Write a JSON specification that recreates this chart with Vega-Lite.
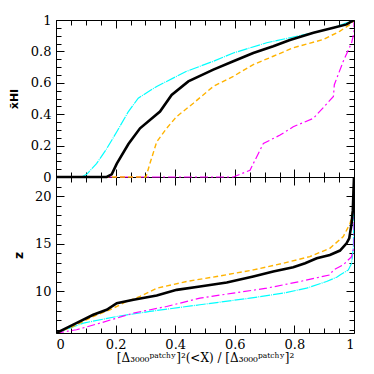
{
  "$schema": "https://vega.github.io/schema/vega-lite/v6.json",
  "autosize": "none",
  "padding": {"left": 56, "top": 20, "right": 20, "bottom": 41},
  "width": 298,
  "height": 313,
  "background": "white",
  "config": {
    "view": {"stroke": "#000", "strokeWidth": 1},
    "axis": {"grid": false, "labelFont": "DejaVu Serif", "labelFontSize": 13, "labelColor": "#000", "tickColor": "#000", "titleColor": "#000"}
  },
  "resolve": {"scale": {"y": "independent"}, "axis": {"x": "independent", "y": "independent"}},
  "layer": [
    {
      "data": {"values": [{"f": 0, "v": 0}, {"f": 0.086, "v": 0}, {"f": 0.103, "v": 0.017}, {"f": 0.136, "v": 0.085}, {"f": 0.17, "v": 0.18}, {"f": 0.204, "v": 0.288}, {"f": 0.243, "v": 0.417}, {"f": 0.276, "v": 0.502}, {"f": 0.338, "v": 0.577}, {"f": 0.438, "v": 0.673}, {"f": 0.528, "v": 0.737}, {"f": 0.595, "v": 0.79}, {"f": 0.707, "v": 0.855}, {"f": 0.785, "v": 0.887}, {"f": 0.864, "v": 0.919}, {"f": 0.931, "v": 0.951}, {"f": 1, "v": 1}]},
      "mark": {"type": "line", "clip": true, "color": "#00ffff", "strokeWidth": 1.2, "strokeDash": [10, 1, 1, 1]},
      "encoding": {
        "x": {"field": "f", "type": "quantitative", "scale": {"domain": [0, 1], "nice": false, "zero": false},
              "axis": {"orient": "bottom", "offset": -313, "labels": false, "title": null, "domain": false, "tickColor": "#000", "values": [0, 0.2, 0.4, 0.6, 0.8, 1], "tickSize": 8}},
        "y": {"field": "v", "type": "quantitative", "scale": {"domain": [0, 1], "range": [157, 0], "nice": false, "zero": false},
              "axis": {"orient": "left", "ticks": false, "domain": false, "values": [0, 0.2, 0.4, 0.6, 0.8, 1], "format": "~g", "labelPadding": 5, "title": "x̄HI", "titleFont": "DejaVu Sans", "titleFontSize": 11, "titleFontWeight": "bold", "titlePadding": 11}}
      }
    },
    {
      "data": {"values": [{"f": 0, "v": 0}, {"f": 0.595, "v": 0}, {"f": 0.651, "v": 0.043}, {"f": 0.696, "v": 0.214}, {"f": 0.752, "v": 0.267}, {"f": 0.796, "v": 0.32}, {"f": 0.864, "v": 0.374}, {"f": 0.931, "v": 0.513}, {"f": 0.934, "v": 0.588}, {"f": 0.964, "v": 0.737}, {"f": 0.992, "v": 0.855}, {"f": 1, "v": 0.92}, {"f": 1.0, "v": 1}]},
      "mark": {"type": "line", "clip": true, "color": "#ff00ff", "strokeWidth": 1.2, "strokeDash": [8, 3, 2, 3]},
      "encoding": {
        "x": {"field": "f", "type": "quantitative", "scale": {"domain": [0, 1], "nice": false, "zero": false},
              "axis": {"orient": "bottom", "offset": -313, "labels": false, "title": null, "domain": false, "tickColor": "#000", "values": [0.05, 0.1, 0.15, 0.25, 0.3, 0.35, 0.45, 0.5, 0.55, 0.65, 0.7, 0.75, 0.85, 0.9, 0.95], "tickSize": 5}},
        "y": {"field": "v", "type": "quantitative", "scale": {"domain": [0, 1], "range": [157, 0], "nice": false, "zero": false},
              "axis": {"orient": "right", "offset": -298, "labels": false, "title": null, "domain": false, "tickColor": "#000", "values": [0, 0.2, 0.4, 0.6, 0.8, 1], "tickSize": 8}}
      }
    },
    {
      "data": {"values": [{"f": 0, "v": 0}, {"f": 0.302, "v": 0}, {"f": 0.315, "v": 0.085}, {"f": 0.338, "v": 0.224}, {"f": 0.371, "v": 0.31}, {"f": 0.405, "v": 0.385}, {"f": 0.461, "v": 0.47}, {"f": 0.528, "v": 0.577}, {"f": 0.595, "v": 0.641}, {"f": 0.662, "v": 0.716}, {"f": 0.729, "v": 0.769}, {"f": 0.796, "v": 0.823}, {"f": 0.897, "v": 0.876}, {"f": 0.953, "v": 0.929}, {"f": 0.987, "v": 0.972}, {"f": 1, "v": 1}]},
      "mark": {"type": "line", "clip": true, "color": "#ffb300", "strokeWidth": 1.4, "strokeDash": [5, 3]},
      "encoding": {
        "x": {"field": "f", "type": "quantitative", "scale": {"domain": [0, 1], "nice": false, "zero": false},
              "axis": {"orient": "top", "offset": -157, "labels": false, "title": null, "domain": false, "tickColor": "#000", "values": [0, 0.2, 0.4, 0.6, 0.8, 1], "tickSize": 8}},
        "y": {"field": "v", "type": "quantitative", "scale": {"domain": [0, 1], "range": [157, 0], "nice": false, "zero": false},
              "axis": {"orient": "right", "offset": -298, "labels": false, "title": null, "domain": false, "tickColor": "#000", "values": [0.05, 0.1, 0.15, 0.25, 0.3, 0.35, 0.45, 0.5, 0.55, 0.65, 0.7, 0.75, 0.85, 0.9, 0.95], "tickSize": 5}}
      }
    },
    {
      "data": {"values": [{"f": 0, "v": 0}, {"f": 0.17, "v": 0}, {"f": 0.187, "v": 0.017}, {"f": 0.204, "v": 0.085}, {"f": 0.243, "v": 0.21}, {"f": 0.282, "v": 0.31}, {"f": 0.349, "v": 0.417}, {"f": 0.388, "v": 0.523}, {"f": 0.444, "v": 0.609}, {"f": 0.528, "v": 0.684}, {"f": 0.595, "v": 0.737}, {"f": 0.662, "v": 0.79}, {"f": 0.729, "v": 0.833}, {"f": 0.785, "v": 0.872}, {"f": 0.864, "v": 0.919}, {"f": 0.931, "v": 0.951}, {"f": 0.975, "v": 0.972}, {"f": 1, "v": 1}]},
      "mark": {"type": "line", "clip": true, "color": "#000000", "strokeWidth": 2.6},
      "encoding": {
        "x": {"field": "f", "type": "quantitative", "scale": {"domain": [0, 1], "nice": false, "zero": false},
              "axis": {"orient": "top", "offset": -157, "labels": false, "title": null, "domain": false, "tickColor": "#000", "values": [0.05, 0.1, 0.15, 0.25, 0.3, 0.35, 0.45, 0.5, 0.55, 0.65, 0.7, 0.75, 0.85, 0.9, 0.95], "tickSize": 5}},
        "y": {"field": "v", "type": "quantitative", "scale": {"domain": [0, 1], "range": [157, 0], "nice": false, "zero": false},
              "axis": {"orient": "left", "offset": -298, "labels": false, "title": null, "domain": false, "tickColor": "#000", "values": [0, 0.2, 0.4, 0.6, 0.8, 1], "tickSize": 8}}
      }
    },
    {
      "data": {"values": [{"f": 0, "v": 0}, {"f": 0.17, "v": 0}, {"f": 0.187, "v": 0.017}, {"f": 0.204, "v": 0.085}, {"f": 0.243, "v": 0.21}, {"f": 0.282, "v": 0.31}, {"f": 0.349, "v": 0.417}, {"f": 0.388, "v": 0.523}, {"f": 0.444, "v": 0.609}, {"f": 0.528, "v": 0.684}, {"f": 0.595, "v": 0.737}, {"f": 0.662, "v": 0.79}, {"f": 0.729, "v": 0.833}, {"f": 0.785, "v": 0.872}, {"f": 0.864, "v": 0.919}, {"f": 0.931, "v": 0.951}, {"f": 0.975, "v": 0.972}, {"f": 1, "v": 1}]},
      "mark": {"type": "point", "opacity": 0},
      "encoding": {
        "x": {"field": "f", "type": "quantitative", "scale": {"domain": [0, 1], "nice": false, "zero": false}, "axis": null},
        "y": {"field": "v", "type": "quantitative", "scale": {"domain": [0, 1], "range": [157, 0], "nice": false, "zero": false},
              "axis": {"orient": "left", "offset": -298, "labels": false, "title": null, "domain": false, "tickColor": "#000", "values": [0.05, 0.1, 0.15, 0.25, 0.3, 0.35, 0.45, 0.5, 0.55, 0.65, 0.7, 0.75, 0.85, 0.9, 0.95], "tickSize": 5}}
      }
    },
    {
      "data": {"values": [{"f": 0, "v": 5.64}, {"f": 0.092, "v": 6.69}, {"f": 0.204, "v": 7.38}, {"f": 0.315, "v": 7.91}, {"f": 0.483, "v": 8.61}, {"f": 0.651, "v": 9.3}, {"f": 0.763, "v": 9.83}, {"f": 0.841, "v": 10.35}, {"f": 0.908, "v": 11.05}, {"f": 0.942, "v": 11.5}, {"f": 0.953, "v": 11.74}, {"f": 0.981, "v": 12.26}, {"f": 0.992, "v": 12.96}, {"f": 0.998, "v": 14.7}, {"f": 1, "v": 22}]},
      "mark": {"type": "line", "clip": true, "color": "#00ffff", "strokeWidth": 1.2, "strokeDash": [10, 1, 1, 1]},
      "encoding": {
        "x": {"field": "f", "type": "quantitative", "scale": {"domain": [0, 1], "nice": false, "zero": false},
              "axis": {"orient": "bottom", "ticks": false, "domain": false, "values": [0, 0.2, 0.4, 0.6, 0.8, 1], "format": "~g", "labelPadding": 5,
                       "title": "[Δ₃₀₀₀ᵖᵃᵗᶜʰʸ]²(<X)   /   [Δ₃₀₀₀ᵖᵃᵗᶜʰʸ]²", "titleFont": "DejaVu Serif", "titleFontSize": 12, "titleFontWeight": "normal", "titlePadding": 1}},
        "y": {"field": "v", "type": "quantitative", "scale": {"domain": [5.65, 22], "range": [313, 157], "nice": false, "zero": false},
              "axis": {"orient": "left", "ticks": false, "domain": false, "values": [10, 15, 20], "format": "~g", "labelPadding": 5, "title": "z", "titleFont": "DejaVu Sans", "titleFontSize": 12, "titleFontWeight": "bold", "titlePadding": 9}}
      }
    },
    {
      "data": {"values": [{"f": 0, "v": 5.64}, {"f": 0.069, "v": 5.99}, {"f": 0.148, "v": 6.69}, {"f": 0.26, "v": 7.74}, {"f": 0.371, "v": 8.43}, {"f": 0.483, "v": 9.3}, {"f": 0.595, "v": 9.83}, {"f": 0.707, "v": 10.35}, {"f": 0.819, "v": 11.05}, {"f": 0.919, "v": 11.74}, {"f": 0.931, "v": 12.26}, {"f": 0.964, "v": 12.79}, {"f": 0.992, "v": 13.66}, {"f": 1, "v": 14.7}, {"f": 1, "v": 22}]},
      "mark": {"type": "line", "clip": true, "color": "#ff00ff", "strokeWidth": 1.2, "strokeDash": [8, 3, 2, 3]},
      "encoding": {
        "x": {"field": "f", "type": "quantitative", "scale": {"domain": [0, 1], "nice": false, "zero": false},
              "axis": {"orient": "top", "offset": -313, "labels": false, "title": null, "domain": false, "tickColor": "#000", "values": [0, 0.2, 0.4, 0.6, 0.8, 1], "tickSize": 8}},
        "y": {"field": "v", "type": "quantitative", "scale": {"domain": [5.65, 22], "range": [313, 157], "nice": false, "zero": false},
              "axis": {"orient": "right", "offset": -298, "labels": false, "title": null, "domain": false, "tickColor": "#000", "values": [10, 15, 20], "tickSize": 8}}
      }
    },
    {
      "data": {"values": [{"f": 0, "v": 5.64}, {"f": 0.058, "v": 6.34}, {"f": 0.125, "v": 7.38}, {"f": 0.181, "v": 8.08}, {"f": 0.237, "v": 8.95}, {"f": 0.282, "v": 9.48}, {"f": 0.338, "v": 10.35}, {"f": 0.438, "v": 11.05}, {"f": 0.539, "v": 11.57}, {"f": 0.662, "v": 12.26}, {"f": 0.763, "v": 12.96}, {"f": 0.852, "v": 13.66}, {"f": 0.919, "v": 14.53}, {"f": 0.964, "v": 15.75}, {"f": 0.987, "v": 17.14}, {"f": 0.996, "v": 18.5}, {"f": 1, "v": 22}]},
      "mark": {"type": "line", "clip": true, "color": "#ffb300", "strokeWidth": 1.4, "strokeDash": [5, 3]},
      "encoding": {
        "x": {"field": "f", "type": "quantitative", "scale": {"domain": [0, 1], "nice": false, "zero": false},
              "axis": {"orient": "top", "offset": -313, "labels": false, "title": null, "domain": false, "tickColor": "#000", "values": [0.05, 0.1, 0.15, 0.25, 0.3, 0.35, 0.45, 0.5, 0.55, 0.65, 0.7, 0.75, 0.85, 0.9, 0.95], "tickSize": 5}},
        "y": {"field": "v", "type": "quantitative", "scale": {"domain": [5.65, 22], "range": [313, 157], "nice": false, "zero": false},
              "axis": {"orient": "right", "offset": -298, "labels": false, "title": null, "domain": false, "tickColor": "#000", "values": [6, 7, 8, 9, 11, 12, 13, 14, 16, 17, 18, 19, 21], "tickSize": 5}}
      }
    },
    {
      "data": {"values": [{"f": 0, "v": 5.64}, {"f": 0.058, "v": 6.52}, {"f": 0.125, "v": 7.56}, {"f": 0.17, "v": 8.08}, {"f": 0.204, "v": 8.78}, {"f": 0.26, "v": 9.13}, {"f": 0.338, "v": 9.58}, {"f": 0.405, "v": 10.17}, {"f": 0.483, "v": 10.52}, {"f": 0.573, "v": 10.94}, {"f": 0.662, "v": 11.57}, {"f": 0.729, "v": 12.09}, {"f": 0.796, "v": 12.54}, {"f": 0.836, "v": 12.96}, {"f": 0.875, "v": 13.48}, {"f": 0.919, "v": 13.83}, {"f": 0.953, "v": 14.29}, {"f": 0.975, "v": 15.05}, {"f": 0.984, "v": 15.57}, {"f": 0.992, "v": 17.14}, {"f": 0.996, "v": 18.5}, {"f": 0.998, "v": 20.3}, {"f": 1, "v": 22}]},
      "mark": {"type": "line", "clip": true, "color": "#000000", "strokeWidth": 2.6},
      "encoding": {
        "x": {"field": "f", "type": "quantitative", "scale": {"domain": [0, 1], "nice": false, "zero": false},
              "axis": {"orient": "bottom", "offset": -156, "labels": false, "title": null, "domain": true, "domainColor": "#000", "tickColor": "#000", "values": [0, 0.2, 0.4, 0.6, 0.8, 1], "tickSize": 8}},
        "y": {"field": "v", "type": "quantitative", "scale": {"domain": [5.65, 22], "range": [313, 157], "nice": false, "zero": false},
              "axis": {"orient": "left", "offset": -298, "labels": false, "title": null, "domain": false, "tickColor": "#000", "values": [10, 15, 20], "tickSize": 8}}
      }
    },
    {
      "data": {"values": [{"f": 0, "v": 5.64}, {"f": 0.058, "v": 6.52}, {"f": 0.125, "v": 7.56}, {"f": 0.17, "v": 8.08}, {"f": 0.204, "v": 8.78}, {"f": 0.26, "v": 9.13}, {"f": 0.338, "v": 9.58}, {"f": 0.405, "v": 10.17}, {"f": 0.483, "v": 10.52}, {"f": 0.573, "v": 10.94}, {"f": 0.662, "v": 11.57}, {"f": 0.729, "v": 12.09}, {"f": 0.796, "v": 12.54}, {"f": 0.836, "v": 12.96}, {"f": 0.875, "v": 13.48}, {"f": 0.919, "v": 13.83}, {"f": 0.953, "v": 14.29}, {"f": 0.975, "v": 15.05}, {"f": 0.984, "v": 15.57}, {"f": 0.992, "v": 17.14}, {"f": 0.996, "v": 18.5}, {"f": 0.998, "v": 20.3}, {"f": 1, "v": 22}]},
      "mark": {"type": "point", "opacity": 0},
      "encoding": {
        "x": {"field": "f", "type": "quantitative", "scale": {"domain": [0, 1], "nice": false, "zero": false},
              "axis": {"orient": "bottom", "offset": -156, "labels": false, "title": null, "domain": false, "tickColor": "#000", "values": [0.05, 0.1, 0.15, 0.25, 0.3, 0.35, 0.45, 0.5, 0.55, 0.65, 0.7, 0.75, 0.85, 0.9, 0.95], "tickSize": 5}},
        "y": {"field": "v", "type": "quantitative", "scale": {"domain": [5.65, 22], "range": [313, 157], "nice": false, "zero": false},
              "axis": {"orient": "left", "offset": -298, "labels": false, "title": null, "domain": false, "tickColor": "#000", "values": [6, 7, 8, 9, 11, 12, 13, 14, 16, 17, 18, 19, 21], "tickSize": 5}}
      }
    }
  ]
}
